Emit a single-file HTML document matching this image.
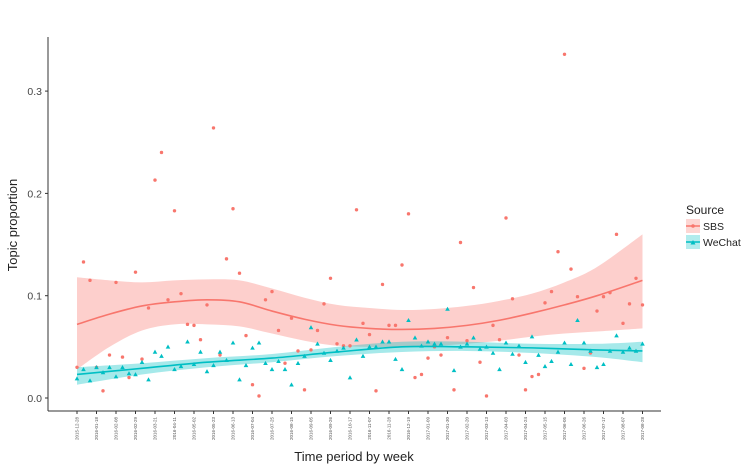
<!DOCTYPE html>
<html><head><meta charset="utf-8"><style>
body{margin:0;background:#fff;font-family:"Liberation Sans",sans-serif;}
svg{display:block}
</style></head><body>
<svg id="chart" width="754" height="471" font-family="Liberation Sans, sans-serif">
<g id="bands"></g><g id="pts"></g><g id="lines"></g>
<g id="axes"></g>
<text x="17" y="225" transform="rotate(-90 17 225)" text-anchor="middle" font-size="13" fill="#222">Topic proportion</text>
<text x="354" y="461" text-anchor="middle" font-size="13" fill="#222">Time period by week</text>
<g>
<text x="686" y="214" font-size="12" fill="#222">Source</text>
<g>
<rect x="686" y="219" width="14" height="14" fill="#f8766d" fill-opacity="0.3"/>
<line x1="686" y1="226" x2="700" y2="226" stroke="#f8766d" stroke-width="1.5"/>
<circle cx="693" cy="226" r="1.8" fill="#f8766d"/>
<text x="703" y="230" font-size="10.5" fill="#222">SBS</text></g>
<g>
<rect x="686" y="235" width="14" height="14" fill="#00bfc4" fill-opacity="0.3"/>
<line x1="686" y1="242" x2="700" y2="242" stroke="#00bfc4" stroke-width="1.5"/>
<path d="M690.5,244.5 L693,240 L695.5,244.5Z" fill="#00bfc4"/>
<text x="703" y="246" font-size="10.5" fill="#222">WeChat</text></g>
</g>
</svg>
<script>
const tickLabels=["2015-12-28","2016-01-18","2016-02-08","2016-02-29","2016-03-21","2016-04-11","2016-05-02","2016-05-23","2016-06-13","2016-07-04","2016-07-25","2016-08-15","2016-09-05","2016-09-26","2016-10-17","2016-11-07","2016-11-28","2016-12-19","2017-01-09","2017-01-30","2017-02-20","2017-03-13","2017-04-03","2017-04-24","2017-05-15","2017-06-05","2017-06-26","2017-07-17","2017-08-07","2017-08-28"];
const yTicks=[0,0.1,0.2,0.3];
const yTickLabels=["0.0","0.1","0.2","0.3"];
const sbs=[0.030,0.133,0.115,0.030,0.007,0.042,0.113,0.040,0.020,0.123,0.038,0.088,0.213,0.240,0.096,0.183,0.102,0.072,0.071,0.057,0.091,0.264,0.042,0.136,0.185,0.122,0.061,0.013,0.002,0.096,0.104,0.066,0.034,0.078,0.046,0.008,0.047,0.066,0.092,0.117,0.053,0.051,0.051,0.184,0.073,0.062,0.007,0.111,0.071,0.071,0.130,0.180,0.020,0.023,0.039,0.050,0.042,0.059,0.008,0.152,0.056,0.108,0.035,0.002,0.071,0.057,0.176,0.097,0.042,0.008,0.021,0.023,0.093,0.104,0.143,0.336,0.126,0.099,0.029,0.044,0.085,0.099,0.103,0.160,0.073,0.092,0.117,0.091];
const wechat=[0.019,0.028,0.017,0.030,0.025,0.030,0.021,0.030,0.024,0.023,0.035,0.018,0.045,0.041,0.050,0.028,0.031,0.055,0.033,0.045,0.026,0.032,0.045,0.037,0.054,0.018,0.032,0.049,0.054,0.034,0.028,0.036,0.028,0.013,0.034,0.041,0.069,0.053,0.044,0.037,0.046,0.049,0.020,0.057,0.041,0.050,0.050,0.055,0.055,0.038,0.028,0.076,0.059,0.051,0.055,0.053,0.053,0.087,0.027,0.050,0.053,0.059,0.048,0.050,0.044,0.028,0.054,0.043,0.051,0.035,0.060,0.042,0.031,0.036,0.045,0.054,0.033,0.076,0.054,0.046,0.030,0.033,0.046,0.061,0.045,0.049,0.046,0.053];
const sbsFitWeeks=[0,5,10,15,20,25,30,35,40,45,50,55,60,65,70,75,80,87];
const sbsFit=[0.072,0.082,0.090,0.094,0.096,0.094,0.085,0.077,0.071,0.068,0.067,0.068,0.071,0.076,0.083,0.091,0.100,0.115];
const sbsLo=[0.028,0.050,0.066,0.072,0.072,0.070,0.063,0.056,0.051,0.050,0.050,0.051,0.053,0.056,0.060,0.063,0.065,0.068];
const sbsHi=[0.118,0.115,0.113,0.115,0.116,0.115,0.107,0.098,0.091,0.088,0.086,0.087,0.090,0.095,0.102,0.113,0.128,0.160];
const weFitWeeks=[0,10,20,30,40,50,60,70,80,87];
const weFit=[0.023,0.029,0.035,0.039,0.045,0.050,0.050,0.049,0.047,0.046];
const weLo=[0.013,0.023,0.030,0.035,0.041,0.045,0.046,0.044,0.040,0.035];
const weHi=[0.030,0.034,0.039,0.043,0.050,0.055,0.055,0.053,0.053,0.055];

const NS="http://www.w3.org/2000/svg";
const X=w=>77+w*6.5, Y=v=>398-v*1023;
function mk(tag,attrs,parent){const e=document.createElementNS(NS,tag);for(const k in attrs)e.setAttribute(k,attrs[k]);parent.appendChild(e);return e;}
function smooth(pts){let d="M"+pts[0][0]+","+pts[0][1];for(let i=0;i<pts.length-1;i++){const p0=pts[i-1]||pts[i],p1=pts[i],p2=pts[i+1],p3=pts[i+2]||p2;d+=" C"+(p1[0]+(p2[0]-p0[0])/6)+","+(p1[1]+(p2[1]-p0[1])/6)+" "+(p2[0]-(p3[0]-p1[0])/6)+","+(p2[1]-(p3[1]-p1[1])/6)+" "+p2[0]+","+p2[1];}return d;}
const bands=document.getElementById('bands'),pts=document.getElementById('pts'),lines=document.getElementById('lines'),axes=document.getElementById('axes');
function band(ws,lo,hi,col,name){const up=ws.map((w,i)=>[X(w),Y(hi[i])]);const dn=ws.map((w,i)=>[X(w),Y(lo[i])]).reverse();
let d=smooth(up)+" L"+dn[0][0]+","+dn[0][1]+smooth(dn).replace(/^M[^ ]+/,"")+"Z";
const e=mk('path',{d:d,fill:col,'fill-opacity':0.35},bands);

}
band(sbsFitWeeks,sbsLo,sbsHi,"#f8766d","sbs-confidence-band");
band(weFitWeeks,weLo,weHi,"#00bfc4","wechat-confidence-band");
sbs.forEach((v,i)=>{const c=mk('circle',{cx:X(i),cy:Y(v),r:1.7,fill:"#f8766d"},pts);

});
wechat.forEach((v,i)=>{const x=X(i),y=Y(v);const p=mk('path',{d:`M${x-2.3},${y+1.8} L${x},${y-2.3} L${x+2.3},${y+1.8}Z`,fill:"#00bfc4"},pts);

});
const l1=mk('path',{d:smooth(sbsFitWeeks.map((w,i)=>[X(w),Y(sbsFit[i])])),fill:"none",stroke:"#f8766d","stroke-width":1.6},lines);


const l2=mk('path',{d:smooth(weFitWeeks.map((w,i)=>[X(w),Y(weFit[i])])),fill:"none",stroke:"#00bfc4","stroke-width":1.6},lines);


const ya=mk('line',{x1:48,y1:37,x2:48,y2:411,stroke:"#333","stroke-width":1},axes);


const xa=mk('line',{x1:48,y1:411,x2:661,y2:411,stroke:"#333","stroke-width":1},axes);


yTicks.forEach((v,i)=>{mk('line',{x1:45,x2:48,y1:Y(v),y2:Y(v),stroke:"#333"},axes);
const t=mk('text',{x:42,y:Y(v)+4,'text-anchor':'end','font-size':10.5,fill:"#444"},axes);t.textContent=yTickLabels[i];

});
tickLabels.forEach((s,i)=>{const x=X(i*3);mk('line',{x1:x,x2:x,y1:411,y2:414,stroke:"#333"},axes);
const t=mk('text',{x:x+1.5,y:417,transform:`rotate(-90 ${x+1.5} 417)`,'text-anchor':'end','font-size':4.5,fill:"#555"},axes);t.textContent=s;

});
</script>
</body></html>
